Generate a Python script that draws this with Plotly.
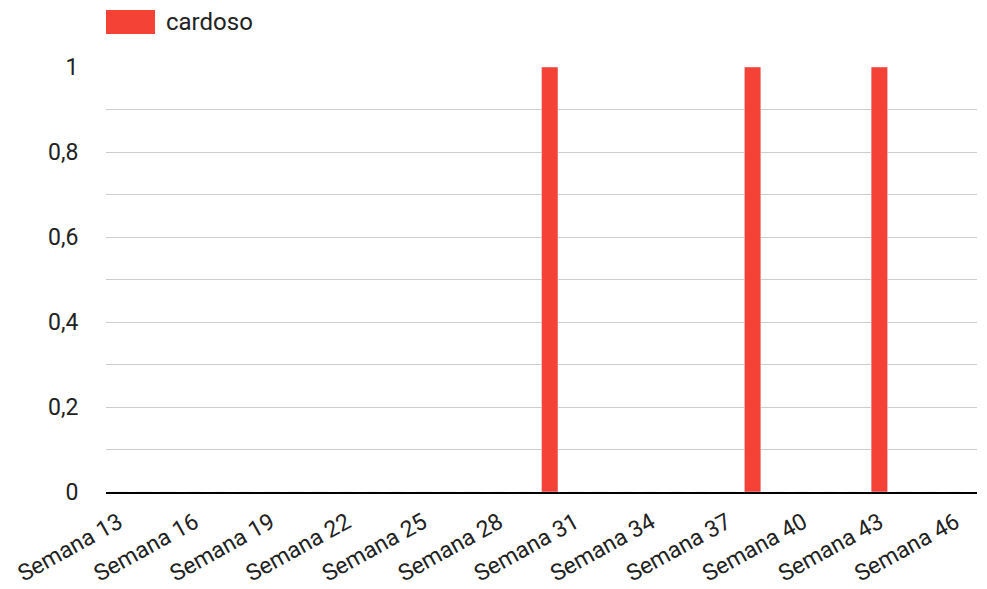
import plotly.graph_objects as go

series_name = "cardoso"
weeks = ["Semana 13", "Semana 14", "Semana 15", "Semana 16", "Semana 17", "Semana 18",
         "Semana 19", "Semana 20", "Semana 21", "Semana 22", "Semana 23", "Semana 24",
         "Semana 25", "Semana 26", "Semana 27", "Semana 28", "Semana 29", "Semana 30",
         "Semana 31", "Semana 32", "Semana 33", "Semana 34", "Semana 35", "Semana 36",
         "Semana 37", "Semana 38", "Semana 39", "Semana 40", "Semana 41", "Semana 42",
         "Semana 43", "Semana 44", "Semana 45", "Semana 46"]
values = [0, 0, 0, 0, 0, 0,
          0, 0, 0, 0, 0, 0,
          0, 0, 0, 0, 0, 1,
          0, 0, 0, 0, 0, 0,
          0, 1, 0, 0, 0, 0,
          1, 0, 0, 0]
x_tick_labels = ["Semana 13", "Semana 16", "Semana 19", "Semana 22", "Semana 25", "Semana 28",
                 "Semana 31", "Semana 34", "Semana 37", "Semana 40", "Semana 43", "Semana 46"]
y_tick_vals = [0, 0.2, 0.4, 0.6, 0.8, 1]

BAR_COLOR = "#f44336"
FAMILY = "Roboto, Arial, sans-serif"
TEXT_COLOR = "#222222"
FONT = dict(family=FAMILY, size=24, color=TEXT_COLOR)
TICK_FONT = dict(family=FAMILY, size=23, color=TEXT_COLOR)

fig = go.Figure()
fig.add_trace(go.Bar(x=weeks, y=values, name=series_name, marker_color=BAR_COLOR,
                     showlegend=False))

fig.update_layout(
    width=987, height=589,
    margin=dict(l=106, r=10, t=67, b=97, autoexpand=False),
    paper_bgcolor="white", plot_bgcolor="white",
    font=FONT,
    separators=",.",
    bargap=0.35,
    xaxis=dict(
        type="category",
        categoryorder="array", categoryarray=weeks,
        range=[-0.5, 33.85],
        tickmode="array", tickvals=x_tick_labels, ticktext=x_tick_labels,
        tickangle=-29, tickfont=TICK_FONT,
        ticks="outside", ticklen=6, tickcolor="rgba(0,0,0,0)",
        showgrid=False,
        showline=True, linecolor="#000000", linewidth=2,
        automargin=False,
        fixedrange=True,
    ),
    yaxis=dict(
        range=[0, 1],
        tickmode="array", tickvals=y_tick_vals, tickfont=TICK_FONT,
        ticks="outside", ticklen=22, tickcolor="rgba(0,0,0,0)",
        showgrid=True, gridcolor="#cccccc", gridwidth=1,
        minor=dict(dtick=0.1, showgrid=True, gridcolor="#cccccc", gridwidth=1),
        zeroline=False,
        showline=False,
        automargin=False,
        fixedrange=True,
    ),
    shapes=[dict(type="rect", xref="paper", yref="paper",
                 x0=0, x1=0.0563, y0=1.0776, y1=1.134,
                 fillcolor=BAR_COLOR, line=dict(width=0))],
    annotations=[dict(text=series_name, xref="paper", yref="paper",
                      x=0.067, y=1.106, xanchor="left", yanchor="middle",
                      showarrow=False, font=FONT)],
)

fig.write_html("out.html",
               config={"displayModeBar": False},
               post_script="document.body.style.margin='0px';document.body.style.overflow='hidden';")
